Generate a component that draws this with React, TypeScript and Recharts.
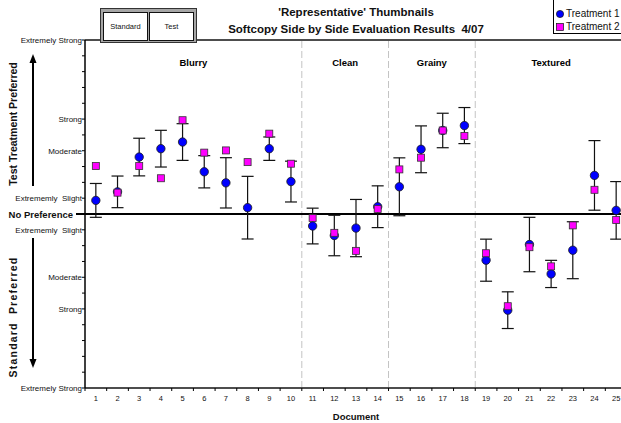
import React from 'react';
import { ScatterChart, Scatter, XAxis, YAxis, ErrorBar, ReferenceLine } from 'recharts';

// ---------- data ----------
const documents = [1, 2, 3, 4, 5, 6, 7, 8, 9, 10, 11, 12, 13, 14, 15, 16, 17, 18, 19, 20, 21, 22, 23, 24, 25];
const treatment1 = [0.86, 1.4, 3.6, 4.13, 4.55, 2.67, 1.97, 0.4, 4.13, 2.05, -0.76, -1.36, -0.89, 0.46, 1.72, 4.09, 5.28, 5.59, -2.92, -6.08, -1.93, -3.79, -2.29, 2.44, 0.23];
const treatment2 = [3.03, 1.35, 3.03, 2.26, 5.93, 3.88, 4.02, 3.28, 5.08, 3.18, -0.25, -1.19, -2.33, 0.32, 2.82, 3.56, 5.28, 4.93, -2.48, -5.83, -2.1, -3.31, -0.72, 1.53, -0.38];
const treatment1Error = [1.07, 1.0, 1.19, 1.16, 1.16, 1.02, 1.59, 1.98, 0.74, 1.29, 1.13, 1.28, 1.81, 1.32, 1.83, 1.48, 1.09, 1.14, 1.33, 1.16, 1.72, 0.86, 1.8, 2.2, 1.82];

const groupNames = ['Blurry', 'Clean', 'Grainy', 'Textured'];
const groupFirstDoc = [1, 11, 15, 19];
const groupLastDoc = [10, 14, 18, 25];
const groupLabelLevel = 9.6;

const yTickValues = [-11, -10, -9, -8, -7, -6, -5, -4, -3, -2, -1, 0, 1, 2, 3, 4, 5, 6, 7, 8, 9, 10, 11];
const yLabelValues = [11, 6, 4, 1, 0, -1, -4, -6, -11];
const yLabelTexts = ['Extremely Strong', 'Strong', 'Moderate', 'Extrememly  Slight', 'No Preference', 'Extrememly  Slight', 'Moderate', 'Strong', 'Extremely Strong'];

const seriesNames = ['Treatment 1', 'Treatment 2'];
const titleLines = ["'Representative' Thumbnails", 'Softcopy Side by Side Evaluation Results  4/07'];
const xAxisTitle = 'Document';
const upperSideTitle = 'Test Treatment Preferred';
const lowerSideTitle = 'Standard  Preferred';
const boxLabels = ['Standard', 'Test'];

// ---------- derived tables ----------
const t1Data = documents.map((d, i) => ({ doc: d, value: treatment1[i], err: treatment1Error[i] }));
const t2Data = documents.map((d, i) => ({ doc: d, value: treatment2[i] }));
const groupData = groupNames.map((n, i) => ({ doc: (groupFirstDoc[i] + groupLastDoc[i]) / 2, value: groupLabelLevel, name: n }));
const separators = groupLastDoc.slice(0, -1).map((d) => d + 0.5);
const xTicks = documents.map((d) => d - 0.5);

// ---------- layout ----------
const FONT = "'Liberation Sans', Arial, sans-serif";
const CHART_W = 640;
const CHART_H = 423;
const MARGIN = { top: 40, right: 13, bottom: 0, left: 0 };
const Y_AXIS_W = 85;
const X_AXIS_H = 35;
const PLOT_W = CHART_W - MARGIN.left - MARGIN.right - Y_AXIS_W;
const HALF_BAND = PLOT_W / documents.length / 2;

const BLUE = '#0000FF';
const MAGENTA = '#FF00FF';

const XTick = (props: any) => {
  const { x, y, payload } = props;
  const idx = xTicks.indexOf(payload.value);
  if (idx < 0) return null;
  return (
    <text x={x + HALF_BAND} y={y} dy={9.8} textAnchor="middle" fontSize={7.5} fill="#111" fontFamily={FONT}>
      {documents[idx]}
    </text>
  );
};

const YTick = (props: any) => {
  const { x, y, payload } = props;
  const i = yLabelValues.indexOf(payload.value);
  if (i < 0) return null;
  const zero = payload.value === 0;
  return (
    <g>
      {zero && <line x1={x - 6} x2={x + 3} y1={y} y2={y} stroke="#000" strokeWidth={2} />}
      <text
        x={zero ? x - 9 : x}
        y={y}
        dy={zero ? 3.5 : 2.8}
        textAnchor="end"
        fontSize={zero ? 9.5 : 8}
        fontWeight={zero ? 'bold' : 'normal'}
        fill="#111"
        fontFamily={FONT}
        style={{ whiteSpace: 'pre' }}
      >
        {yLabelTexts[i]}
      </text>
    </g>
  );
};

const CircleShape = (props: any) => {
  const { cx, cy } = props;
  return <circle cx={cx} cy={cy} r={4.2} fill={BLUE} stroke="#1a1a1a" strokeWidth={0.8} />;
};

const SquareShape = (props: any) => {
  const { cx, cy } = props;
  return <rect x={cx - 3.5} y={cy - 3.5} width={7} height={7} fill={MAGENTA} stroke="#333" strokeWidth={0.8} />;
};

const GroupLabel = (props: any) => {
  const { cx, cy, payload } = props;
  return (
    <text x={cx} y={cy} dy={3.5} textAnchor="middle" fontSize={9.5} fontWeight="bold" fill="#000" fontFamily={FONT}>
      {payload.name}
    </text>
  );
};

export default function App() {
  return (
    <div style={{ position: 'absolute', left: 0, top: 0, width: 621, height: 423, overflow: 'hidden', background: '#fff', fontFamily: FONT }}>
      <ScatterChart width={CHART_W} height={CHART_H} margin={MARGIN}>
        <XAxis
          type="number"
          dataKey="doc"
          domain={[0.5, documents.length + 0.5]}
          ticks={xTicks}
          interval={0}
          height={X_AXIS_H}
          tick={<XTick />}
          tickSize={3}
          tickMargin={0}
          tickLine={{ stroke: '#000', strokeWidth: 1 }}
          axisLine={{ stroke: '#4d4d4d', strokeWidth: 2 }}
          allowDataOverflow
        />
        <YAxis
          type="number"
          dataKey="value"
          domain={[-11, 11]}
          ticks={yTickValues}
          interval={0}
          width={Y_AXIS_W}
          tick={<YTick />}
          tickSize={3}
          tickMargin={0}
          tickLine={{ stroke: '#000', strokeWidth: 1 }}
          axisLine={{ stroke: '#000', strokeWidth: 1.5 }}
          allowDataOverflow
        />
        {separators.map((s) => (
          <ReferenceLine key={s} x={s} stroke="#c4c4c4" strokeDasharray="7 3" strokeWidth={1} />
        ))}
        <ReferenceLine y={11} stroke="#4d4d4d" strokeWidth={2} />
        <ReferenceLine y={0} stroke="#000" strokeWidth={2} />
        <Scatter data={groupData} shape={<GroupLabel />} isAnimationActive={false} />
        <Scatter name={seriesNames[0]} data={t1Data} shape={<CircleShape />} isAnimationActive={false}>
          <ErrorBar dataKey="err" direction="y" width={6} stroke="#111" strokeWidth={1.2} />
        </Scatter>
        <Scatter name={seriesNames[1]} data={t2Data} shape={<SquareShape />} isAnimationActive={false} />
      </ScatterChart>

      {/* side titles and arrows */}
      <svg width={90} height={423} style={{ position: 'absolute', left: 0, top: 0, pointerEvents: 'none' }}>
        <line x1={33} y1={186} x2={33} y2={62} stroke="#000" strokeWidth={2} />
        <path d="M29.5,63 L33,54 L36.5,63 Z" fill="#000" />
        <line x1={33} y1={238} x2={33} y2={360} stroke="#000" strokeWidth={2} />
        <path d="M29.5,359 L33,368 L36.5,359 Z" fill="#000" />
        <text x={13.5} y={124} transform="rotate(-90 13.5 124)" textAnchor="middle" dy={3.8} fontSize={10.5} fontWeight="bold" fill="#111" fontFamily={FONT}>
          {upperSideTitle}
        </text>
        <text x={13.5} y={317} transform="rotate(-90 13.5 317)" textAnchor="middle" dy={3.8} fontSize={10.5} fontWeight="bold" fill="#111" fontFamily={FONT} letterSpacing={1.2} style={{ whiteSpace: 'pre' }}>
          {lowerSideTitle}
        </text>
      </svg>

      {/* title */}
      {titleLines.map((t, i) => (
        <div key={i} style={{ position: 'absolute', left: 156, width: 400, top: i === 0 ? 5 : 22, textAlign: 'center', fontSize: 11.5, fontWeight: 'bold', lineHeight: '14px', color: '#111', whiteSpace: 'pre' }}>
          {t}
        </div>
      ))}

      {/* Standard / Test box */}
      <div style={{ position: 'absolute', left: 100, top: 8, width: 97, height: 35, boxSizing: 'border-box', background: '#a6a6a6', border: '1px solid #333' }} />
      {boxLabels.map((b, i) => (
        <div
          key={b}
          style={{
            position: 'absolute',
            left: i === 0 ? 103 : 149,
            top: 11.5,
            width: 45,
            height: 29,
            boxSizing: 'border-box',
            background: '#fff',
            border: '1.5px solid #111',
            fontSize: 7.5,
            display: 'flex',
            alignItems: 'center',
            justifyContent: 'center',
            color: '#111',
          }}
        >
          {b}
        </div>
      ))}

      {/* legend */}
      <div style={{ position: 'absolute', left: 553, top: -1, width: 80, height: 35, boxSizing: 'border-box', background: '#fff', border: '1px solid #000' }}>
        {seriesNames.map((n, i) => (
          <div key={n} style={{ position: 'absolute', left: 0, top: i === 0 ? 8 : 21, height: 12, display: 'flex', alignItems: 'center', fontSize: 10, lineHeight: '12px', color: '#111', whiteSpace: 'nowrap' }}>
            <svg width={10} height={10} style={{ marginLeft: 1 }}>
              {i === 0 ? (
                <circle cx={5} cy={5} r={3.6} fill={BLUE} stroke="#111" strokeWidth={0.7} />
              ) : (
                <rect x={1.5} y={1.5} width={7} height={7} fill={MAGENTA} stroke="#111" strokeWidth={0.7} />
              )}
            </svg>
            <span style={{ marginLeft: 1 }}>{n}</span>
          </div>
        ))}
      </div>

      {/* x-axis title */}
      <div style={{ position: 'absolute', left: 156, width: 400, top: 411, textAlign: 'center', fontSize: 9.5, fontWeight: 'bold', color: '#111' }}>
        {xAxisTitle}
      </div>
    </div>
  );
}
